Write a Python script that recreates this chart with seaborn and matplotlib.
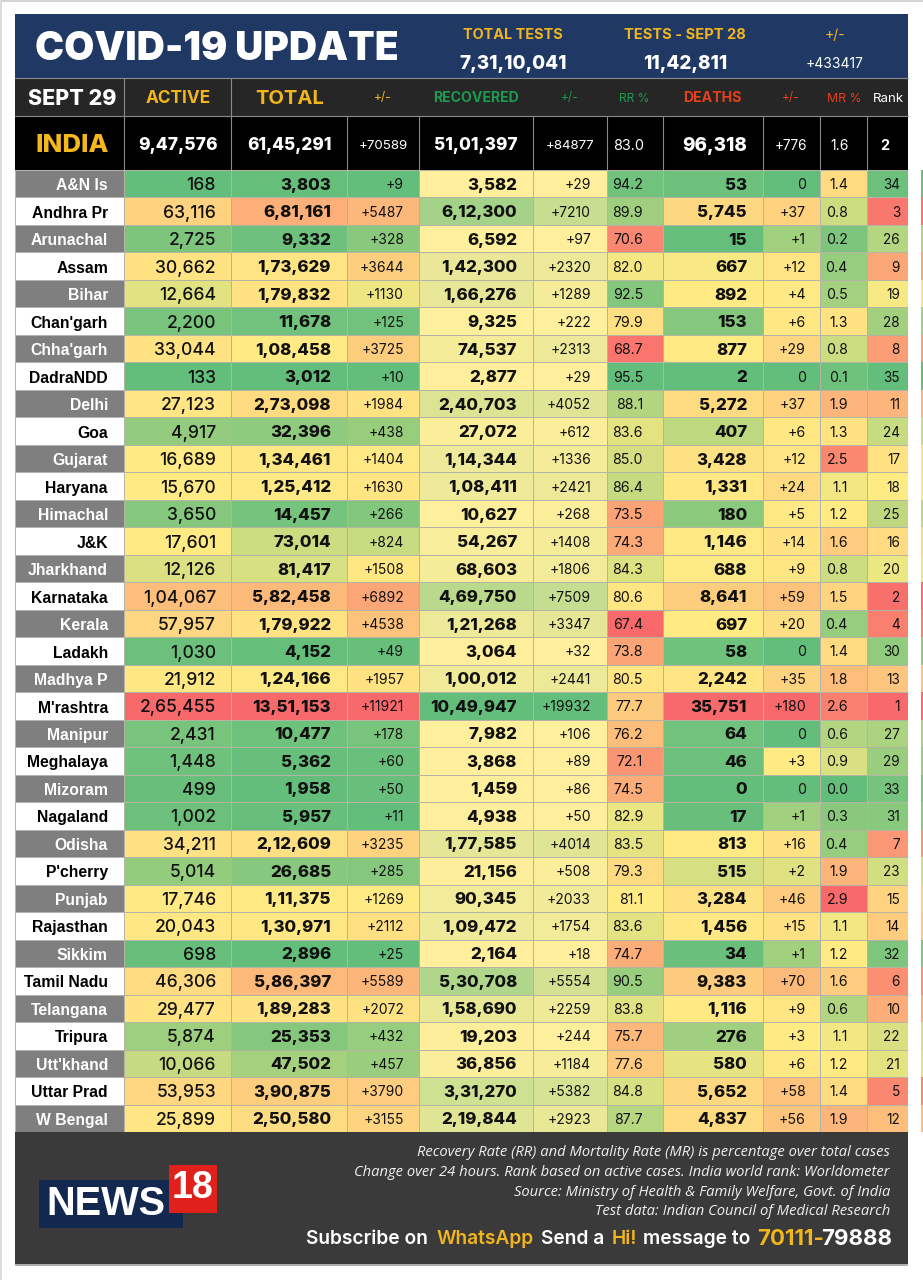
import matplotlib
matplotlib.use("Agg")
import matplotlib.pyplot as plt
from matplotlib.colors import LinearSegmentedColormap, ListedColormap, TwoSlopeNorm, Normalize
from matplotlib.patches import Rectangle
import numpy as np
import pandas as pd
import seaborn as sns

sns.set_theme(style="white")
plt.rcParams['font.family'] = ['Inter', 'DejaVu Sans']

W, H = 923, 1280

# data
states = ["A&N Is", "Andhra Pr", "Arunachal", "Assam", "Bihar", "Chan'garh", "Chha'garh", "DadraNDD", "Delhi", "Goa",
          "Gujarat", "Haryana", "Himachal", "J&K", "Jharkhand", "Karnataka", "Kerala", "Ladakh", "Madhya P", "M'rashtra",
          "Manipur", "Meghalaya", "Mizoram", "Nagaland", "Odisha", "P'cherry", "Punjab", "Rajasthan", "Sikkim",
          "Tamil Nadu", "Telangana", "Tripura", "Utt'khand", "Uttar Prad", "W Bengal"]
active = [168, 63116, 2725, 30662, 12664, 2200, 33044, 133, 27123, 4917, 16689, 15670, 3650, 17601, 12126, 104067,
          57957, 1030, 21912, 265455, 2431, 1448, 499, 1002, 34211, 5014, 17746, 20043, 698, 46306, 29477, 5874,
          10066, 53953, 25899]
total = [3803, 681161, 9332, 173629, 179832, 11678, 108458, 3012, 273098, 32396, 134461, 125412, 14457, 73014, 81417,
         582458, 179922, 4152, 124166, 1351153, 10477, 5362, 1958, 5957, 212609, 26685, 111375, 130971, 2896, 586397,
         189283, 25353, 47502, 390875, 250580]
total_delta = [9, 5487, 328, 3644, 1130, 125, 3725, 10, 1984, 438, 1404, 1630, 266, 824, 1508, 6892, 4538, 49, 1957,
               11921, 178, 60, 50, 11, 3235, 285, 1269, 2112, 25, 5589, 2072, 432, 457, 3790, 3155]
recovered = [3582, 612300, 6592, 142300, 166276, 9325, 74537, 2877, 240703, 27072, 114344, 108411, 10627, 54267, 68603,
             469750, 121268, 3064, 100012, 1049947, 7982, 3868, 1459, 4938, 177585, 21156, 90345, 109472, 2164, 530708,
             158690, 19203, 36856, 331270, 219844]
recovered_delta = [29, 7210, 97, 2320, 1289, 222, 2313, 29, 4052, 612, 1336, 2421, 268, 1408, 1806, 7509, 3347, 32,
                   2441, 19932, 106, 89, 86, 50, 4014, 508, 2033, 1754, 18, 5554, 2259, 244, 1184, 5382, 2923]
rr_pct = [94.2, 89.9, 70.6, 82.0, 92.5, 79.9, 68.7, 95.5, 88.1, 83.6, 85.0, 86.4, 73.5, 74.3, 84.3, 80.6, 67.4, 73.8,
          80.5, 77.7, 76.2, 72.1, 74.5, 82.9, 83.5, 79.3, 81.1, 83.6, 74.7, 90.5, 83.8, 75.7, 77.6, 84.8, 87.7]
deaths = [53, 5745, 15, 667, 892, 153, 877, 2, 5272, 407, 3428, 1331, 180, 1146, 688, 8641, 697, 58, 2242, 35751, 64,
          46, 0, 17, 813, 515, 3284, 1456, 34, 9383, 1116, 276, 580, 5652, 4837]
deaths_delta = [0, 37, 1, 12, 4, 6, 29, 0, 37, 6, 12, 24, 5, 14, 9, 59, 20, 0, 35, 180, 0, 3, 0, 1, 16, 2, 46, 15, 1,
                70, 9, 3, 6, 58, 56]
mr_pct = [1.4, 0.8, 0.2, 0.4, 0.5, 1.3, 0.8, 0.1, 1.9, 1.3, 2.5, 1.1, 1.2, 1.6, 0.8, 1.5, 0.4, 1.4, 1.8, 2.6, 0.6, 0.9,
          0.0, 0.3, 0.4, 1.9, 2.9, 1.1, 1.2, 1.6, 0.6, 1.1, 1.2, 1.4, 1.9]
rank = [34, 3, 26, 9, 19, 28, 8, 35, 11, 24, 17, 18, 25, 16, 20, 2, 4, 30, 13, 1, 27, 29, 33, 31, 7, 23, 15, 14, 32, 6,
        10, 22, 21, 5, 12]

col_heads = ["ACTIVE", "TOTAL", "+/-", "RECOVERED", "+/-", "RR %", "DEATHS", "+/-", "MR %", "Rank"]
india_row = ["9,47,576", "61,45,291", "+70589", "51,01,397", "+84877", "83.0", "96,318", "+776", "1.6", "2"]
tests_heads = ["TOTAL TESTS", "TESTS - SEPT 28", "+/-"]
tests_vals = ["7,31,10,041", "11,42,811", "+433417"]
notes = ["Recovery Rate (RR) and Mortality Rate (MR) is percentage over total cases",
         "Change over 24 hours. Rank based on active cases. India world rank: Worldometer",
         "Source: Ministry of Health & Family Welfare, Govt. of India",
         "Test data: Indian Council of Medical Research"]

# colours
GOLD = "#f2b51d"
low_green = LinearSegmentedColormap.from_list("gyr", ["#63be7b", "#ffeb84", "#f8696b"])
high_green = LinearSegmentedColormap.from_list("ryg", ["#f8696b", "#ffeb84", "#63be7b"])
cream_green = LinearSegmentedColormap.from_list("cg", ["#ffef9c", "#63be7b"])


def lakh(n):
    s = str(n)
    if len(s) <= 3:
        return s
    head, tail = s[:-3], s[-3:]
    parts = []
    while len(head) > 2:
        parts.insert(0, head[-2:])
        head = head[:-2]
    if head:
        parts.insert(0, head)
    return ",".join(parts + [tail])


def plus(n):
    return "+%d" % n if n else "0"


def one_dec(v):
    return "%.1f" % v


def px_axes(x0, y0, x1, y1):
    return fig.add_axes([x0 / W, 1 - y1 / H, (x1 - x0) / W, (y1 - y0) / H])


fig = plt.figure(figsize=(W / 100, H / 100), dpi=100, facecolor="white")

bg = fig.add_axes([0, 0, 1, 1])
bg.set_xlim(0, W)
bg.set_ylim(H, 0)
bg.axis("off")
for x, y, w, h, c in [(0, 0, W, 2, "#d4d4d4"), (0, 0, 1.5, H, "#dcdcdc"),
                      (15, 14, 893, 64, "#1f3864"), (15, 78, 893, 38, "#262626"),
                      (15, 116, 893, 54, "#000000"), (15, 1132, 893, 132, "#3a3a3a"),
                      (15, 1264, 893, 1.5, "#b0b0b0")]:
    bg.add_patch(Rectangle((x, y), w, h, fc=c, ec="none"))

# column edges and text anchors in pixels
edges = [124, 231, 347, 419, 533, 606.5, 663, 762.5, 820, 867, 907.5]
right_px = [216, 331, 404, 517, 591, 643, 747, 806, 848, 900]
centers = [178, 290, 383, 476, 570, 634, 712, 791, 844, 888]
TOP, BOTTOM = 170, 1132

columns = [
    (active, lakh, low_green, TwoSlopeNorm(vmin=min(active), vcenter=np.median(active), vmax=max(active)), 12.6, "medium"),
    (total, lakh, low_green, TwoSlopeNorm(vmin=min(total), vcenter=np.median(total), vmax=max(total)), 12.2, "heavy"),
    (total_delta, plus, low_green, TwoSlopeNorm(vmin=min(total_delta), vcenter=np.median(total_delta), vmax=max(total_delta)), 10, "normal"),
    (recovered, lakh, cream_green, Normalize(vmin=min(recovered), vmax=max(recovered)), 12.2, "heavy"),
    (recovered_delta, plus, cream_green, Normalize(vmin=min(recovered_delta), vmax=max(recovered_delta)), 10, "normal"),
    (rr_pct, one_dec, high_green, TwoSlopeNorm(vmin=min(rr_pct), vcenter=np.median(rr_pct), vmax=max(rr_pct)), 10.2, "normal"),
    (deaths, lakh, low_green, TwoSlopeNorm(vmin=min(deaths), vcenter=np.median(deaths), vmax=max(deaths)), 12.2, "heavy"),
    (deaths_delta, plus, low_green, TwoSlopeNorm(vmin=min(deaths_delta), vcenter=2.5, vmax=max(deaths_delta)), 10.2, "normal"),
    (mr_pct, one_dec, low_green, TwoSlopeNorm(vmin=min(mr_pct), vcenter=np.median(mr_pct), vmax=max(mr_pct)), 10.2, "normal"),
    (rank, str, high_green, TwoSlopeNorm(vmin=min(rank), vcenter=np.median(rank), vmax=max(rank)), 9.8, "normal"),
]

for k, (vals, fmt, cmap, norm, size, weight) in enumerate(columns):
    ax = px_axes(edges[k], TOP, edges[k + 1], BOTTOM)
    df = pd.DataFrame({"v": vals}, index=states)
    sns.heatmap(df, ax=ax, cmap=cmap, norm=norm, cbar=False, linewidths=0.7, linecolor="#b4b4a4",
                xticklabels=False, yticklabels=False)
    ax.set_xlabel("")
    ax.set_ylabel("")
    xfrac = (right_px[k] - edges[k]) / (edges[k + 1] - edges[k])
    for i, v in enumerate(vals):
        ax.text(xfrac, i + 0.5, fmt(v), ha="right", va="center_baseline", fontsize=size, fontweight=weight,
                color="#111111")

# state name column, striped grey and white
ax = px_axes(15, TOP, 124, BOTTOM)
stripes = pd.DataFrame({"s": [(i + 1) % 2 for i in range(len(states))]}, index=states)
sns.heatmap(stripes, ax=ax, cmap=ListedColormap(["white", "#7f7f7f"]), vmin=0, vmax=1, cbar=False,
            linewidths=0.7, linecolor="#b4b4b4", xticklabels=False, yticklabels=False)
ax.set_xlabel("")
ax.set_ylabel("")
for i, name in enumerate(states):
    ax.text(93 / 109, i + 0.52, name, ha="right", va="center_baseline", fontsize=11.3, fontweight="bold",
            family="Liberation Sans", color="white" if i % 2 == 0 else "black")

# sliver of the next sheet on the right edge
ax = px_axes(921, TOP, W, BOTTOM)
sns.heatmap(pd.DataFrame({"r": rank}), ax=ax, cmap=high_green, cbar=False, xticklabels=False, yticklabels=False)
ax.set_xlabel("")
ax.set_ylabel("")

# header band
bg.text(217, 49, "COVID-19 UPDATE", ha="center", va="center", fontsize=28, fontweight="black", color="white")
for cx, head, val, vw, vs, hs in zip([513, 685, 835], tests_heads, tests_vals,
                                     ["heavy", "heavy", "normal"], [13.6, 13.6, 10], [10.4, 10.6, 10]):
    bg.text(cx, 35, head, ha="center", va="center", fontsize=hs, fontweight="bold" if vw == "heavy" else "normal", color=GOLD)
    bg.text(cx, 64, val, ha="center", va="center", fontsize=vs, fontweight=vw, color="white")

# column titles
head_cols = [GOLD, GOLD, GOLD, "#1c9a50", "#1c9a50", "#1c9a50", "#e5401e", "#e5401e", "#e5401e", "white"]
head_size = [12.4, 14.5, 8.5, 10.2, 8.5, 8.6, 10.2, 8.5, 8.8, 9.6]
head_wt = ["bold", "bold", "normal", "bold", "normal", "normal", "bold", "normal", "normal", "normal"]
bg.text(72, 99, "SEPT 29", ha="center", va="center", fontsize=15.4, fontweight="heavy", color="white")
for cx, t, c, s, wt in zip(centers, col_heads, head_cols, head_size, head_wt):
    bg.text(cx, 98.5, t, ha="center", va="center", fontsize=s, fontweight=wt, color=c)

# india row
india_x = [178, 290, 383, 476, 570, 629, 715, 791, 840, 885]
bg.text(72, 145, "INDIA", ha="center", va="center", fontsize=18.6, fontweight="heavy", color="#f5b81c")
india_size = [12.6, 12.4, 9.6, 12.4, 9.6, 10.4, 13.6, 9.8, 10, 10.4]
india_wt = ["heavy", "heavy", "normal", "heavy", "normal", "normal", "heavy", "normal", "normal", "bold"]
for cx, t, s, wt in zip(india_x, india_row, india_size, india_wt):
    bg.text(cx, 146, t, ha="center", va="center", fontsize=s, fontweight=wt, color="white")

# separators
bg.plot([124, 124], [78, 170], color="#8a8a8a", lw=0.8)
bg.plot([231, 231], [78, 170], color="#8a8a8a", lw=0.8)
bg.plot([15, 908], [115.5, 115.5], color="#8a8a8a", lw=0.8)
bg.plot([15, 908], [78, 78], color="#8a8a8a", lw=0.8)
for x in edges[2:-1]:
    bg.plot([x, x], [116, 170], color="#8a8a8a", lw=0.8)

# footer notes
for y, t in zip([1153, 1172.5, 1192, 1211.5], notes):
    bg.text(890, y, t, ha="right", va="center", fontsize=10.6, style="italic", family="Open Sans", color="#f0f0f0")

# logo
bg.add_patch(Rectangle((39, 1180), 144, 48, fc="#12284f", ec="none", zorder=3))
bg.add_patch(Rectangle((169, 1165), 48, 48, fc="#e0201b", ec="none", zorder=4))
bg.text(46, 1204, "NEWS", ha="left", va="center", fontsize=28.6, fontweight="bold", family="Liberation Sans",
        color="white", zorder=5)
bg.text(193, 1188, "18", ha="center", va="center", fontsize=27, fontweight="bold", family="Liberation Sans",
        color="white", zorder=5)

# whatsapp line
for x, t, c in [(306, "Subscribe on", "white"), (437, "WhatsApp", GOLD), (541, "Send a", "white"),
                (612, "Hi!", GOLD), (643, "message to", "white")]:
    bg.text(x, 1239.5, t, ha="left", va="center", fontsize=13.8, fontweight="semibold", color=c)
bg.text(757, 1239, "70111-", ha="left", va="center", fontsize=16, fontweight="bold", color=GOLD)
bg.text(821, 1239, "79888", ha="left", va="center", fontsize=16, fontweight="bold", color="white")

fig.savefig("out.png", dpi=100)
